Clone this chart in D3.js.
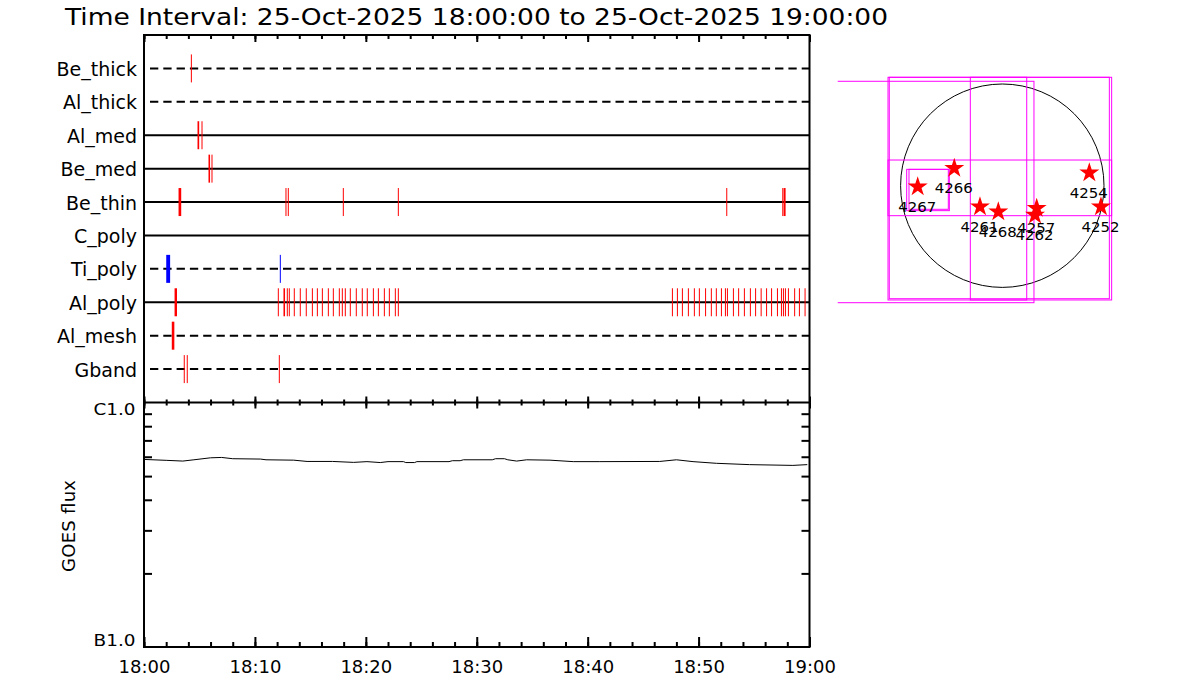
<!DOCTYPE html>
<html>
<head>
<meta charset="utf-8">
<script src="https://cdn.jsdelivr.net/npm/d3@7"></script>
<style>
  body { margin: 0; background: #fff; }
  text { font-family: "DejaVu Sans", sans-serif; fill: #000; }
</style>
</head>
<body>
<svg id="chart" width="1200" height="700"></svg>
<script>
// filters shown in the timeline, top to bottom, and which filter wheel they sit on
const filters = ['Be_thick', 'Al_thick', 'Al_med', 'Be_med', 'Be_thin', 'C_poly', 'Ti_poly', 'Al_poly', 'Al_mesh', 'Gband']
const filterWheel = [2, 2, 1, 1, 1, 1, 2, 1, 2, 2]
const markGroup = ['a', 'a', 'a', 'a', 'a', 'a', 'b', 'a', 'a', 'a']

// exposures per filter, minutes after 18:00 ([start] or [start, end])
const beThick = [[4.27]]
const alThick = []
const alMed = [[4.87, 5.02], [5.23]]
const beMed = [[5.86, 6.0], [6.13]]
const beThin = [[3.16, 3.40], [12.80], [13.01], [17.97], [22.93], [52.54], [57.59], [57.71, 57.89]]
const cPoly = []
const tiPoly = [[2.05, 2.40], [12.29]]
const alPoly = [[2.80, 3.02], [12.11], [12.62, 12.76], [12.92], [13.10], [13.55], [14.09], [14.63],
    [15.18], [15.63], [16.08], [16.62], [17.07], [17.61], [17.88], [18.15], [18.60], [19.14], [19.68],
    [20.13], [20.68], [21.13], [21.67], [22.12], [22.66], [22.93],
    [47.64], [48.09], [48.54], [49.08], [49.62], [50.07], [50.63], [51.15], [51.60], [52.06], [52.42],
    [52.60], [53.14], [53.61], [54.13], [54.67], [55.14], [55.64], [56.13], [56.58], [57.11], [57.47],
    [57.65], [57.83], [58.10], [58.66], [59.09], [59.60]]
const alMesh = [[2.55, 2.78]]
const gband = [[3.63], [3.90], [12.20]]
const exposures = [beThick, alThick, alMed, beMed, beThin, cPoly, tiPoly, alPoly, alMesh, gband]

// GOES flux (W/m^2), minutes after 18:00
const goesMinutes = [0, 2, 3.5, 4.5, 6, 7, 8, 10.5, 11, 13.5, 14.7, 17, 18.9, 20.1, 21.3, 22, 23.4, 23.6,
    24.4, 24.6, 27.5, 27.8, 28.5, 28.8, 31.4, 31.7, 32.5, 32.8, 33.6, 34.5, 36.6, 38.7, 41.1, 46.5, 48,
    49.5, 51.6, 54.6, 58.5, 59.8]
const goesFlux = [5.85, 5.80, 5.76, 5.83, 5.94, 5.96, 5.89, 5.87, 5.83, 5.81, 5.74, 5.74, 5.69, 5.73,
    5.68, 5.73, 5.73, 5.68, 5.68, 5.73, 5.73, 5.78, 5.78, 5.83, 5.83, 5.89, 5.89, 5.83, 5.76, 5.83, 5.81,
    5.73, 5.73, 5.74, 5.83, 5.73, 5.64, 5.57, 5.53, 5.57].map(v => v * 1e-7)
const goesClassValues = [1e-7, 1e-6]
const goesClassLabels = ['B1.0', 'C1.0']

// solar map: active regions (arcsec) and pointing boxes [x0, x1, y0, y1]
const solarRadius = 970
const regionIds = ['4266', '4267', '4261', '4268', '4257', '4262', '4254', '4252']
const regionX = [-458, -807, -213, -38, 328, 312, 830, 941]
const regionY = [166, -10, -200, -248, -216, -280, 124, -200]
const fovBoxes = [
    [-1090, 1043, -1090, 1034],
    [-1078, 1021, -1078, 1034],
    [-1810, 302, -1116, 996],
    [-305, 233, -1090, 1034],
    [-1090, 1043, -286, 245],
    [-912, -505, -238, 156],
    [-890, -515, -225, 156]
]

const titleText = 'Time Interval: 25-Oct-2025 18:00:00 to 25-Oct-2025 19:00:00'

const svg = d3.select('#chart')
const t0 = Date.UTC(2025, 9, 25, 18, 0, 0)
const toDate = m => new Date(t0 + m * 60000)

const left = 144, right = 809.5
const topY = 35, midY = 402.5, botY = 647

const x = d3.scaleUtc()
    .domain([toDate(0), toDate(60)])
    .range([left, right])

const yRow = d3.scalePoint()
    .domain(filters)
    .range([topY, midY])
    .padding(1)

const yFlux = d3.scaleLog()
    .domain([1e-7, 1e-6])
    .range([botY, midY])

const colour = d3.scaleOrdinal().domain(['a', 'b']).range(['#ff0000', '#0000ff'])

// title
svg.append('text')
    .attr('x', 65)
    .attr('y', 24.5)
    .attr('font-size', 23)
    .attr('textLength', 823)
    .attr('lengthAdjust', 'spacingAndGlyphs')
    .text(titleText)

// filter rows
const rows = svg.append('g').attr('class', 'rows')
rows.selectAll('line')
    .data(filters)
    .enter().append('line')
    .attr('x1', left)
    .attr('x2', right)
    .attr('y1', d => yRow(d))
    .attr('y2', d => yRow(d))
    .attr('stroke', '#000')
    .attr('stroke-width', 2)
    .attr('stroke-dasharray', (d, i) => filterWheel[i] === 2 ? '8.3,5' : null)
    .attr('stroke-dashoffset', 7.3)

rows.selectAll('text')
    .data(filters)
    .enter().append('text')
    .attr('x', 137)
    .attr('y', d => yRow(d) + 7.5)
    .attr('text-anchor', 'end')
    .attr('font-size', 19)
    .text(d => d)

// exposure marks
const marks = []
exposures.forEach((list, i) => {
    list.forEach(e => marks.push({ filter: filters[i], group: markGroup[i], start: e[0], end: e.length > 1 ? e[1] : e[0] }))
})
svg.append('g').attr('class', 'marks')
    .selectAll('rect')
    .data(marks)
    .enter().append('rect')
    .attr('x', d => x(toDate(d.start)) - 0.5)
    .attr('width', d => Math.max(1, x(toDate(d.end)) - x(toDate(d.start))))
    .attr('y', d => yRow(d.filter) - 14)
    .attr('height', 28)
    .attr('fill', d => colour(d.group))

// time ticks
function timeTicks (y, size, minorSize) {
    const g = svg.append('g').attr('transform', `translate(0,${y})`)
    g.append('g')
        .call(d3.axisBottom(x).ticks(d3.utcMinute.every(2)).tickSizeInner(minorSize).tickSizeOuter(0).tickFormat(''))
    g.append('g')
        .call(d3.axisBottom(x).ticks(d3.utcMinute.every(10)).tickSizeInner(size).tickSizeOuter(0).tickFormat(''))
    g.selectAll('.domain').remove()
    g.selectAll('.tick line').attr('stroke-width', 2)
}
timeTicks(topY, 7, 4)
timeTicks(midY, -6, -3)
timeTicks(midY, 6, 3)
timeTicks(botY, -10, -5)

// time labels
const xLabels = svg.append('g')
    .attr('transform', `translate(0,${botY})`)
    .call(d3.axisBottom(x).ticks(d3.utcMinute.every(10)).tickSize(0).tickPadding(13).tickFormat(d3.utcFormat('%H:%M')))
xLabels.select('.domain').remove()
xLabels.selectAll('text').attr('font-size', 18).attr('font-family', '"DejaVu Sans", sans-serif')

// flux minor ticks on both sides
const minorFlux = d3.range(2, 10).map(v => v * 1e-7)
const fl = svg.append('g').attr('transform', `translate(${left},0)`)
    .call(d3.axisLeft(yFlux).tickValues(minorFlux).tickSizeInner(-8).tickSizeOuter(0).tickFormat(''))
const fr = svg.append('g').attr('transform', `translate(${right},0)`)
    .call(d3.axisRight(yFlux).tickValues(minorFlux).tickSizeInner(-8).tickSizeOuter(0).tickFormat(''))
fl.select('.domain').remove()
fr.select('.domain').remove()
svg.selectAll('.tick line').attr('stroke-width', 2)

svg.append('g').selectAll('text')
    .data(goesClassValues)
    .enter().append('text')
    .attr('x', 135.5)
    .attr('y', (d, i) => i === 0 ? yFlux(d) - 1 : yFlux(d) + 12.5)
    .attr('text-anchor', 'end')
    .attr('font-size', 15)
    .attr('textLength', 42)
    .attr('lengthAdjust', 'spacingAndGlyphs')
    .text((d, i) => goesClassLabels[i])

svg.append('text')
    .attr('transform', `translate(75,526) rotate(-90)`)
    .attr('text-anchor', 'middle')
    .attr('font-size', 18)
    .attr('textLength', 92)
    .text('GOES flux')

// GOES curve
const goesLine = d3.line()
    .x((d, i) => x(toDate(goesMinutes[i])))
    .y(d => yFlux(d))
svg.append('path')
    .datum(goesFlux)
    .attr('d', goesLine)
    .attr('fill', 'none')
    .attr('stroke', '#000')
    .attr('stroke-width', 1)

// frames
const frame = svg.append('g').attr('fill', 'none').attr('stroke', '#000').attr('stroke-width', 2)
frame.append('rect').attr('x', left).attr('y', topY).attr('width', right - left).attr('height', botY - topY)
frame.append('line').attr('x1', left).attr('x2', right).attr('y1', midY).attr('y2', midY)

// solar map
const sx = d3.scaleLinear().domain([-1570, 1570]).range([837.7, 1166.9])
const sy = d3.scaleLinear().domain([-1570, 1570]).range([350.3, 21.1])

svg.append('clipPath').attr('id', 'sun-clip')
    .append('rect')
    .attr('x', sx(-1570)).attr('y', sy(1570))
    .attr('width', sx(1570) - sx(-1570)).attr('height', sy(-1570) - sy(1570))

const sun = svg.append('g').attr('clip-path', 'url(#sun-clip)')

sun.append('circle')
    .attr('cx', sx(0))
    .attr('cy', sy(0))
    .attr('r', sx(solarRadius) - sx(0))
    .attr('fill', 'none')
    .attr('stroke', '#000')
    .attr('stroke-width', 1)

sun.selectAll('rect.fov')
    .data(fovBoxes)
    .enter().append('rect')
    .attr('class', 'fov')
    .attr('x', d => sx(d[0]))
    .attr('y', d => sy(d[3]))
    .attr('width', d => sx(d[1]) - sx(d[0]))
    .attr('height', d => sy(d[2]) - sy(d[3]))
    .attr('fill', 'none')
    .attr('stroke', '#ff00ff')
    .attr('stroke-width', 1)

const star = d3.symbol().type(d3.symbolStar).size(124)
sun.selectAll('path.ar')
    .data(regionIds)
    .enter().append('path')
    .attr('class', 'ar')
    .attr('transform', (d, i) => `translate(${sx(regionX[i])},${sy(regionY[i])})`)
    .attr('d', star)
    .attr('fill', '#ff0000')

sun.selectAll('text.ar')
    .data(regionIds)
    .enter().append('text')
    .attr('class', 'ar')
    .attr('x', (d, i) => sx(regionX[i]) - 19.5)
    .attr('y', (d, i) => sy(regionY[i]) + 25)
    .attr('font-size', 14)
    .attr('textLength', 38)
    .attr('lengthAdjust', 'spacingAndGlyphs')
    .text(d => d)
</script>
</body>
</html>
